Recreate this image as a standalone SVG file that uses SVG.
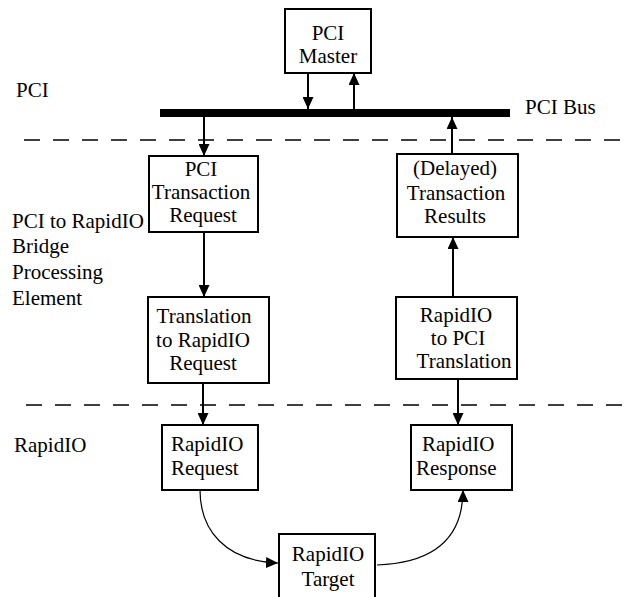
<svg xmlns="http://www.w3.org/2000/svg" width="624" height="597" viewBox="0 0 624 597">
<style>
.box{fill:#fff;stroke:#000;stroke-width:2}
text{font-family:"Liberation Serif","Times New Roman",serif;font-size:21px;fill:#000}
.c{text-anchor:middle}
.ln{stroke:#000;stroke-width:2;fill:none}
.cv{stroke:#000;stroke-width:1.2;fill:none}
.dash{stroke:#000;stroke-width:1.6;stroke-dasharray:16 13;fill:none}
</style>
<defs>
<marker id="ah" markerUnits="userSpaceOnUse" markerWidth="12" markerHeight="11" viewBox="0 0 12 11" refX="12" refY="5.5" orient="auto">
<path d="M0,0 L12,5.5 L0,11 Z" fill="#000"/>
</marker>
</defs>
<g id="labels">
<text x="16" y="97">PCI</text>
<text x="12" y="228">PCI to RapidIO</text>
<text x="12" y="253">Bridge</text>
<text x="12" y="279">Processing</text>
<text x="12" y="305">Element</text>
<text x="14" y="452">RapidIO</text>
<text x="525" y="114">PCI Bus</text>
</g>
<g id="separators">
<line class="dash" x1="24" y1="140" x2="624" y2="140"/>
<line class="dash" x1="26" y1="405" x2="624" y2="405"/>
</g>
<g id="pci-bus">
<rect x="160" y="109" width="350" height="8" fill="#000"/>
</g>
<g id="pci-master">
<rect class="box" x="285" y="9" width="86" height="64"/>
<text class="c" x="328" y="40">PCI</text>
<text class="c" x="328" y="63">Master</text>
</g>
<g id="pci-transaction-request">
<rect class="box" x="149" y="156" width="109" height="76"/>
<text class="c" x="201" y="176">PCI</text>
<text class="c" x="201" y="199">Transaction</text>
<text class="c" x="203" y="222">Request</text>
</g>
<g id="translation-to-rapidio">
<rect class="box" x="148" y="297" width="121" height="86"/>
<text class="c" x="204" y="323">Translation</text>
<text class="c" x="203" y="347">to RapidIO</text>
<text class="c" x="203" y="370">Request</text>
</g>
<g id="delayed-results">
<rect class="box" x="397" y="154" width="121" height="83"/>
<text class="c" x="455" y="175">(Delayed)</text>
<text class="c" x="456" y="200">Transaction</text>
<text class="c" x="455" y="223">Results</text>
</g>
<g id="rapidio-to-pci">
<rect class="box" x="396" y="297" width="121" height="82"/>
<text class="c" x="456" y="322">RapidIO</text>
<text class="c" x="458" y="345">to PCI</text>
<text class="c" x="464" y="368">Translation</text>
</g>
<g id="rapidio-request">
<rect class="box" x="162" y="425" width="96" height="65"/>
<text x="171" y="451">RapidIO</text>
<text x="171" y="475">Request</text>
</g>
<g id="rapidio-response">
<rect class="box" x="411" y="425" width="101" height="65"/>
<text x="422" y="451">RapidIO</text>
<text x="416" y="475">Response</text>
</g>
<g id="rapidio-target">
<rect class="box" x="279" y="534" width="96" height="75"/>
<text class="c" x="328" y="561">RapidIO</text>
<text class="c" x="328" y="586">Target</text>
</g>
<g id="connectors">
<line class="ln" x1="308" y1="73" x2="308" y2="109" marker-end="url(#ah)"/>
<line class="ln" x1="354" y1="109" x2="354" y2="73" marker-end="url(#ah)"/>
<line class="ln" x1="204" y1="117" x2="204" y2="156" marker-end="url(#ah)"/>
<line class="ln" x1="452" y1="154" x2="452" y2="117" marker-end="url(#ah)"/>
<line class="ln" x1="204" y1="232" x2="204" y2="297" marker-end="url(#ah)"/>
<line class="ln" x1="453" y1="297" x2="453" y2="237" marker-end="url(#ah)"/>
<line class="ln" x1="203" y1="383" x2="203" y2="425" marker-end="url(#ah)"/>
<line class="ln" x1="458" y1="379" x2="458" y2="425" marker-end="url(#ah)"/>
<path class="cv" d="M200,490 C200,530 225,561 278,563" marker-end="url(#ah)"/>
<path class="cv" d="M377,565 C432,563 463,540 463,490" marker-end="url(#ah)"/>
</g>
</svg>
